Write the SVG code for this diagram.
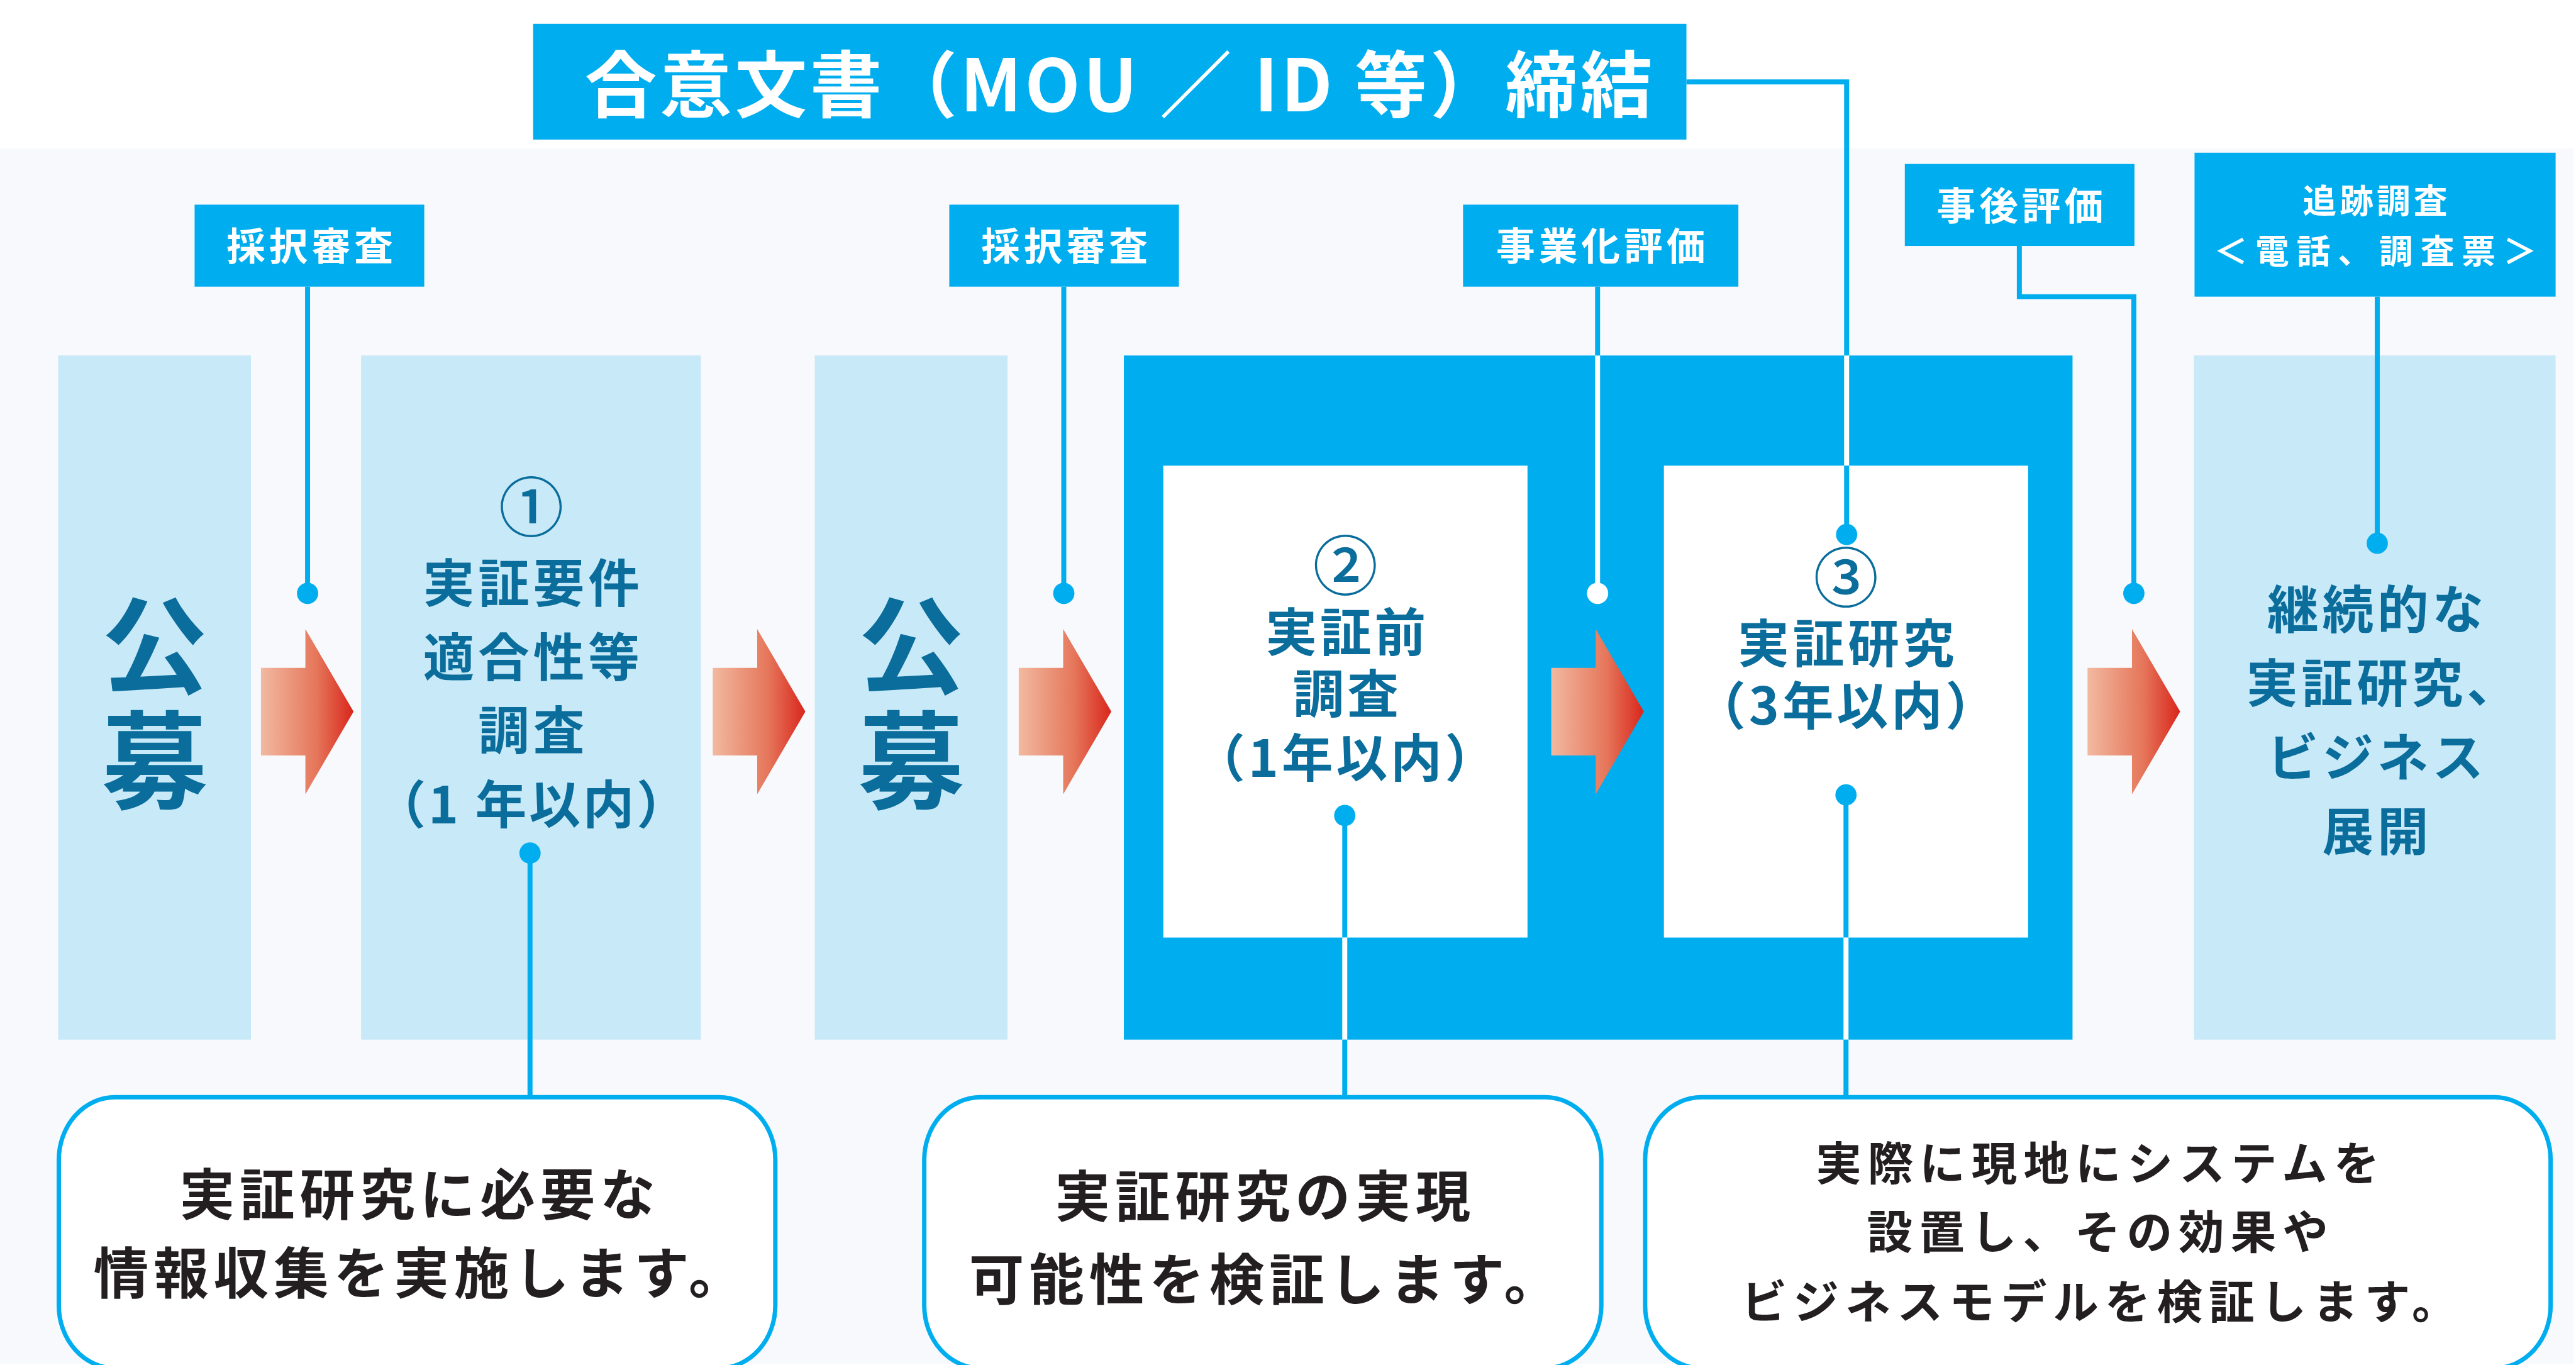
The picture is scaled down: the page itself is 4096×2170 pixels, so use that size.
<svg xmlns="http://www.w3.org/2000/svg" width="4096" height="2170" viewBox="0 0 4096 2170">
<defs>
<linearGradient id="arrowGrad" x1="0" y1="0" x2="1" y2="0">
<stop offset="0" stop-color="#F2B9A1"/>
<stop offset="0.6" stop-color="#E5765A"/>
<stop offset="1" stop-color="#D9261C"/>
</linearGradient>
<polygon id="arrow" points="0,62 71,62 71,0 148,132 71,264 71,202 0,202" fill="url(#arrowGrad)"/>
<style>
.lbl{fill:#00AEEF}
.lblt{fill:#FFFFFF;font-family:"Noto Sans CJK JP","Noto Sans",sans-serif;font-weight:700;text-anchor:middle}
.light{fill:#C8E9F8}
.tt{fill:#0A6D9B;font-family:"Noto Sans CJK JP","Noto Sans",sans-serif;font-weight:700;text-anchor:middle}
.bt{fill:#231F20;font-family:"Noto Sans CJK JP","Noto Sans",sans-serif;font-weight:700;text-anchor:middle}
.num{font-size:104px;font-weight:500}
.ln{stroke:#00AEEF;stroke-width:8;fill:none}
.lw{stroke:#FFFFFF;stroke-width:8;fill:none}
.dot{fill:#00AEEF}
.box{fill:#FFFFFF;stroke:#00AEEF;stroke-width:7}
.big{writing-mode:vertical-rl;font-size:170px;letter-spacing:14px}
</style>
</defs>
<g transform="scale(0.995)">
<rect x="0" y="0" width="4113" height="2179" fill="#FFFFFF"/>
<rect x="0" y="237" width="4113" height="1942" fill="#F8F9FC"/>

<g id="mou">
<rect class="lbl" x="852" y="38" width="1843" height="185"/>
<text class="lblt" x="1790" y="178" font-size="115" letter-spacing="5">合意文書（MOU ／ ID 等）締結</text>
</g>

<g id="saitaku1">
<rect class="lbl" x="311" y="327" width="367" height="131"/>
<text class="lblt" x="498" y="416" font-size="62" letter-spacing="6">採択審査</text>
</g>
<g id="saitaku2">
<rect class="lbl" x="1517" y="327" width="367" height="131"/>
<text class="lblt" x="1704" y="416" font-size="62" letter-spacing="6">採択審査</text>
</g>
<g id="jigyouka">
<rect class="lbl" x="2338" y="327" width="440" height="131"/>
<text class="lblt" x="2561" y="416" font-size="62" letter-spacing="6">事業化評価</text>
</g>
<g id="jigo">
<rect class="lbl" x="3044" y="262" width="367" height="131"/>
<text class="lblt" x="3231" y="352" font-size="62" letter-spacing="6">事後評価</text>
</g>
<g id="tsuiseki">
<rect class="lbl" x="3507" y="244" width="577" height="230"/>
<text class="lblt" font-size="54"><tspan x="3798" y="341" letter-spacing="5">追跡調査</tspan><tspan x="3802" y="421" letter-spacing="12">＜電話、調査票＞</tspan></text>
</g>

<g id="koubo1">
<rect class="light" x="93" y="568" width="308" height="1093"/>
<text class="tt big" x="247" y="1130">公募</text>
</g>
<g id="step1">
<rect class="light" x="577" y="568" width="543" height="1093"/>
<text class="tt" font-size="82"><tspan class="num" x="849" y="849">①</tspan><tspan x="852" y="962" letter-spacing="6">実証要件</tspan><tspan x="852" y="1080" letter-spacing="6">適合性等</tspan><tspan x="852" y="1197" letter-spacing="6">調査</tspan><tspan x="851" y="1316" letter-spacing="4">（1 年以内）</tspan></text>
</g>
<g id="koubo2">
<rect class="light" x="1302" y="568" width="308" height="1093"/>
<text class="tt big" x="1456" y="1130">公募</text>
</g>
<g id="frame">
<rect class="lbl" x="1796" y="568" width="1516" height="1093"/>
</g>
<g id="step2">
<rect fill="#FFFFFF" x="1859" y="744" width="582" height="754"/>
<text class="tt" font-size="82"><tspan class="num" x="2150" y="943">②</tspan><tspan x="2153" y="1040" letter-spacing="5">実証前</tspan><tspan x="2153" y="1139" letter-spacing="5">調査</tspan><tspan x="2152" y="1241" letter-spacing="5">（1年以内）</tspan></text>
</g>
<g id="step3">
<rect fill="#FFFFFF" x="2659" y="744" width="582" height="754"/>
<text class="tt" font-size="82"><tspan class="num" x="2950" y="962">③</tspan><tspan x="2953" y="1058" letter-spacing="6">実証研究</tspan><tspan x="2952" y="1158" letter-spacing="5">（3年以内）</tspan></text>
</g>
<g id="final">
<rect class="light" x="3506" y="568" width="578" height="1093"/>
<text class="tt" font-size="82" letter-spacing="6"><tspan x="3799" y="1004">継続的な</tspan><tspan x="3810" y="1122">実証研究、</tspan><tspan x="3799" y="1240">ビジネス</tspan><tspan x="3799" y="1359">展開</tspan></text>
</g>

<g id="arrows">
<use href="#arrow" transform="translate(417,1005)"/>
<use href="#arrow" transform="translate(1139,1005)"/>
<use href="#arrow" transform="translate(1628,1005)"/>
<use href="#arrow" transform="translate(2479,1005)"/>
<use href="#arrow" transform="translate(3336,1005)"/>
</g>

<g id="desc1">
<rect class="box" x="94" y="1753" width="1145" height="433" rx="90" ry="100"/>
<text class="bt" font-size="88" letter-spacing="8"><tspan x="671" y="1941">実証研究に必要な</tspan><tspan x="673" y="2066">情報収集を実施します。</tspan></text>
</g>
<g id="desc2">
<rect class="box" x="1477" y="1753" width="1082" height="433" rx="90" ry="100"/>
<text class="bt" font-size="88" letter-spacing="8"><tspan x="2022" y="1944">実証研究の実現</tspan><tspan x="2024" y="2076">可能性を検証します。</tspan></text>
</g>
<g id="desc3">
<rect class="box" x="2629" y="1753" width="1447" height="433" rx="90" ry="100"/>
<text class="bt" font-size="73" letter-spacing="10"><tspan x="3357" y="1885">実際に現地にシステムを</tspan><tspan x="3357" y="1995">設置し、その効果や</tspan><tspan x="3360" y="2107">ビジネスモデルを検証します。</tspan></text>
</g>

<g id="connectors">
<path class="ln" d="M491.5,458 V948"/>
<circle class="dot" cx="491.5" cy="948" r="17"/>
<path class="ln" d="M1700,458 V948"/>
<circle class="dot" cx="1700" cy="948" r="17"/>
<path class="ln" d="M2553,458 V568"/>
<path class="lw" d="M2553,568 V948"/>
<circle fill="#FFFFFF" cx="2553" cy="948" r="17"/>
<path class="ln" d="M2695,131 H2951 V568"/>
<path class="lw" d="M2951,568 V744"/>
<path class="ln" d="M2951,744 V854"/>
<circle class="dot" cx="2951" cy="854" r="17"/>
<path class="ln" d="M3227,393 V474 H3410 V948"/>
<circle class="dot" cx="3410" cy="948" r="17"/>
<path class="ln" d="M3799,474 V868"/>
<circle class="dot" cx="3799" cy="868" r="17"/>
<path class="ln" d="M847,1363 V1753"/>
<circle class="dot" cx="847" cy="1363" r="17"/>
<path class="ln" d="M2149,1303 V1498"/>
<path class="lw" d="M2149,1498 V1661"/>
<path class="ln" d="M2149,1661 V1753"/>
<circle class="dot" cx="2149" cy="1303" r="17"/>
<path class="ln" d="M2950,1270 V1498"/>
<path class="lw" d="M2950,1498 V1661"/>
<path class="ln" d="M2950,1661 V1753"/>
<circle class="dot" cx="2950" cy="1270" r="17"/>
</g>
</g>
</svg>
